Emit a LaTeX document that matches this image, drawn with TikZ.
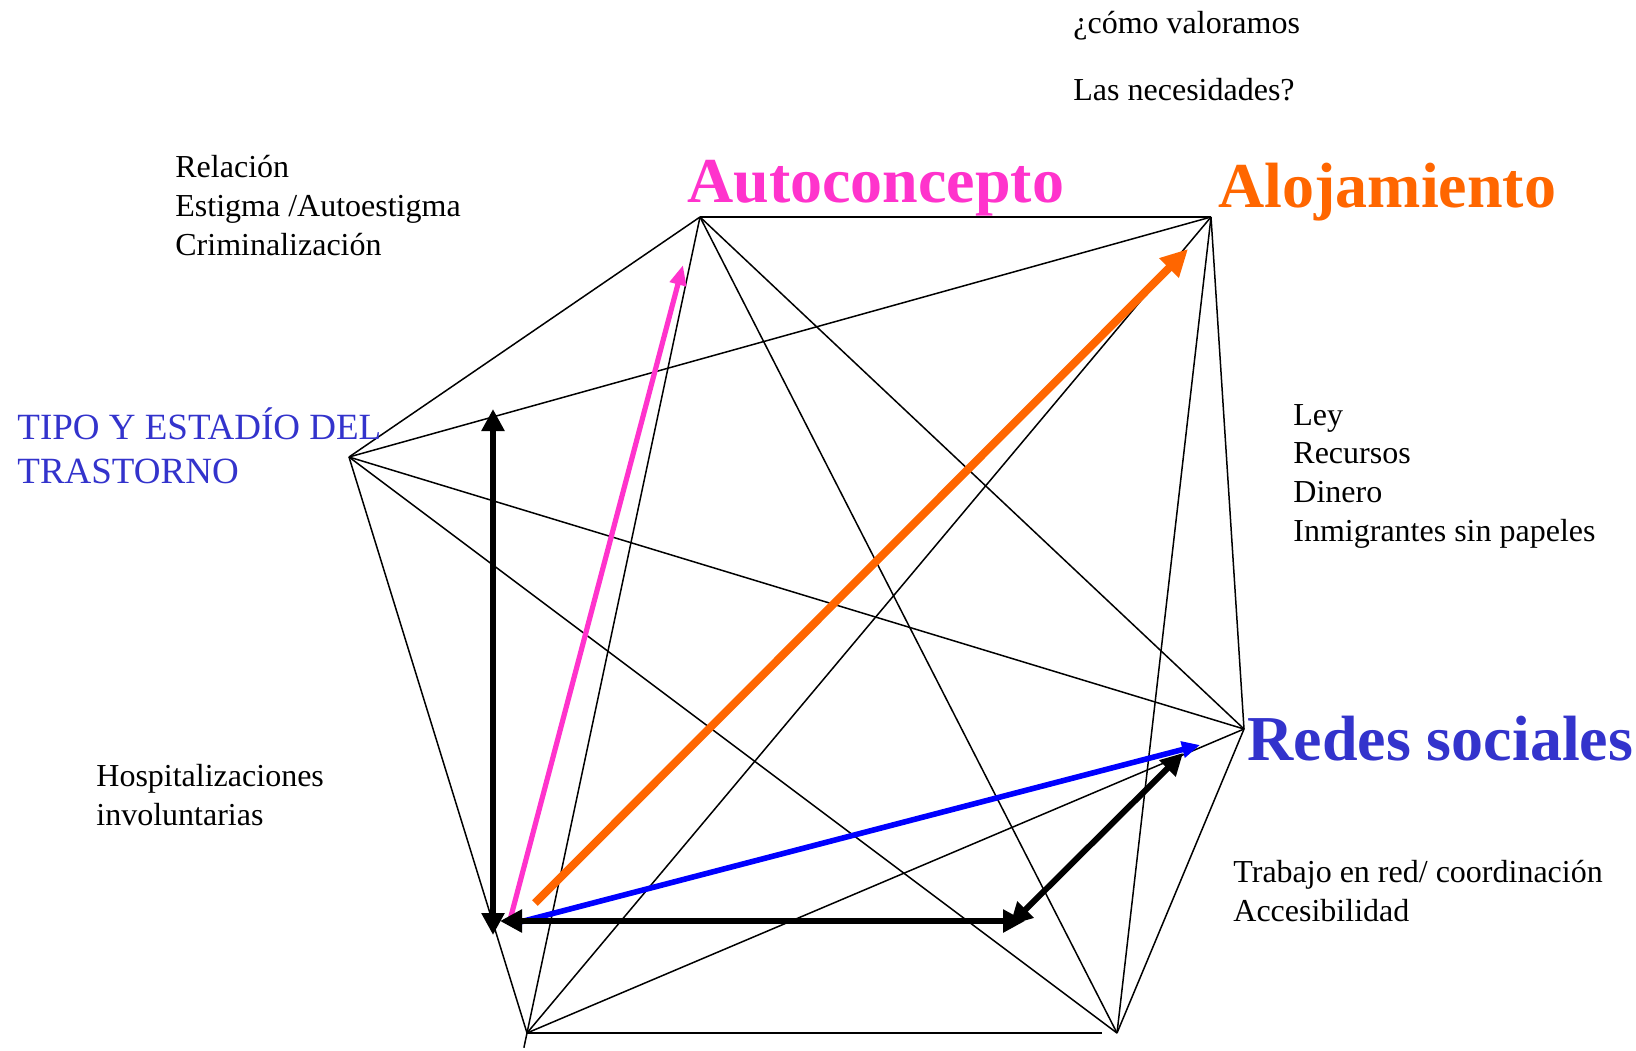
\documentclass[tikz,border=0pt]{standalone}
\usepackage{fontspec}
\setmainfont{Liberation Serif}
\definecolor{autopink}{HTML}{FF33CC}
\definecolor{aloorange}{HTML}{FF6600}
\definecolor{redesblue}{HTML}{3333CC}
\definecolor{arrowblue}{HTML}{0000FF}
\usetikzlibrary{arrows.meta}

\begin{document}
\begin{tikzpicture}[x=0.5pt, y=-0.5pt,
    edge/.style={black, line width=0.75pt},
    bigarrow/.style={black, line width=3pt,
                     {Triangle[length=11pt,width=11pt]}-{Triangle[length=11pt,width=11pt]}},
    note/.style={anchor=base west, inner sep=0pt, align=left,
                 font=\fontsize{16}{19.3}\selectfont},
    title/.style={anchor=base west, inner sep=0pt,
                  font=\bfseries\fontsize{32}{38}\selectfont}
  ]
    \useasboundingbox (0,0) rectangle (1636,1050);
    % Vertices of the hexagon
    \coordinate (auto)  at (700, 217);
    \coordinate (alo)   at (1211, 217);
    \coordinate (redes) at (1244, 729);
    \coordinate (br)    at (1117, 1033);
    \coordinate (bl)    at (527, 1033);
    \coordinate (tipo)  at (349, 457);
    % Edges: every vertex joined to every other
    \draw[edge] (auto) -- (alo);
    \draw[edge] (auto) -- (redes);
    \draw[edge] (auto) -- (br);
    \draw[edge, shorten >=-7.5pt] (auto) -- (bl);
    \draw[edge] (auto) -- (tipo);
    \draw[edge] (alo) -- (redes);
    \draw[edge] (alo) -- (br);
    \draw[edge] (alo) -- (bl);
    \draw[edge] (alo) -- (tipo);
    \draw[edge] (redes) -- (br);
    \draw[edge] (redes) -- (bl);
    \draw[edge] (redes) -- (tipo);
    \draw[edge, shorten >=7.5pt] (bl) -- (br);
    \draw[edge] (br) -- (tipo);
    \draw[edge] (bl) -- (tipo);
    % Arrow ends
    \coordinate (vtop)   at (493, 409);
    \coordinate (vbot)   at (493, 935);
    \coordinate (hleft)  at (500, 921);
    \coordinate (hright) at (1025, 921);
    \coordinate (dlow)   at (1010, 925);
    \coordinate (dhigh)  at (1183, 753);
    \coordinate (pstart) at (510, 920);
    \coordinate (pend)   at (683, 265);
    \coordinate (ostart) at (535, 903);
    \coordinate (oend)   at (1188, 249);
    \coordinate (bstart) at (520, 922);
    \coordinate (bend)   at (1200, 745);
    % Coloured arrows
    \draw[-{Triangle[length=10pt,width=8pt]}, autopink, line width=2.6pt]
      (pstart) -- (pend);
    \draw[-{Triangle[length=13.5pt,width=13pt]}, aloorange, line width=4pt]
      (ostart) -- (oend);
    \draw[-{Triangle[length=9pt,width=8pt]}, arrowblue, line width=2.8pt]
      (bstart) -- (bend);
    % Black double arrows
    \draw[bigarrow] (vbot) -- (vtop);
    \draw[bigarrow] (hleft) -- (hright);
    \draw[bigarrow] (dlow) -- (dhigh);
    % Labels (multi-line nodes sit on their last baseline)
    \node[note] (q1) at (1073, 33) {¿cómo valoramos};
    \node[note] (q2) at (1073, 100) {Las necesidades?};
    \node[note] (rel) at (175, 255)
      {Relación\\Estigma /Autoestigma\\Criminalización};
    \node[title, autopink] (autolabel) at (687, 202) {Autoconcepto};
    \node[title, aloorange] (alolabel) at (1218, 207) {Alojamiento};
    \node[note, redesblue, font=\fontsize{18.5}{22}\selectfont] (tipolabel)
      at (17, 483) {TIPO Y ESTADÍO DEL\\TRASTORNO};
    \node[note] (ley) at (1293, 541)
      {Ley\\Recursos\\Dinero\\Inmigrantes sin papeles};
    \node[note] (hosp) at (96, 825) {Hospitalizaciones\\involuntarias};
    \node[title, redesblue] (redeslabel) at (1247, 760) {Redes sociales};
    \node[note] (trab) at (1233, 921)
      {Trabajo en red/ coordinación\\Accesibilidad};
  \end{tikzpicture}
\end{document}
